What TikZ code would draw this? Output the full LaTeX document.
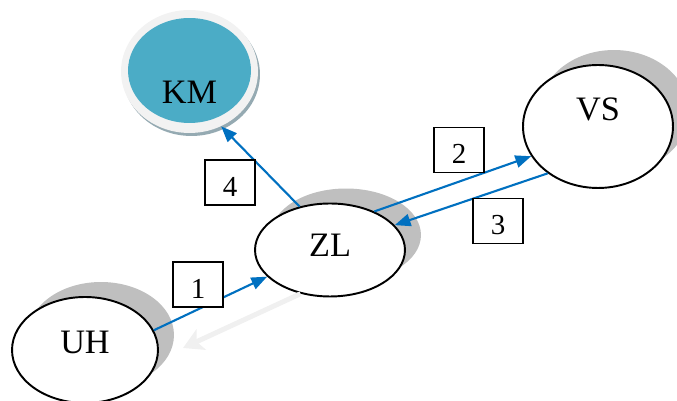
\documentclass[tikz,border=0pt]{standalone}
\usepackage{fontspec}
\setmainfont{Liberation Serif}
\usetikzlibrary{shapes.geometric,shadows,arrows.meta}
\definecolor{linkblue}{HTML}{0070C0}
\definecolor{shadowgray}{HTML}{BFBFBF}
\definecolor{kmteal}{HTML}{4BACC6}
\definecolor{kmrim}{HTML}{F2F2F2}
\definecolor{kmshade}{HTML}{95AAB2}
\definecolor{ghostgray}{HTML}{F0F0F0}
\tikzset{
  actor/.style={ellipse, draw, line width=1.1pt, fill=white, inner sep=0pt,
    general shadow={fill=shadowgray, shadow xshift=0.32cm, shadow yshift=0.3cm}},
  actorlabel/.style={font=\fontsize{19.5}{23}\selectfont},
  stepno/.style={rectangle, draw, fill=white, line width=0.9pt, minimum width=1cm,
    minimum height=0.9cm, inner sep=0pt, text height=15.5pt, text depth=0pt,
    font=\fontsize{16.5}{19}\selectfont},
  link/.style={linkblue, line width=1.2pt, -{Triangle[length=9pt,width=7pt]}},
}
\begin{document}
\begin{tikzpicture}[x=0.02cm, y=-0.02cm]
    \useasboundingbox (0,0) rectangle (677,401);
    % actors
    \node[actor, minimum width=2.92cm, minimum height=2.12cm,
          label={[name=uhtext, actorlabel, yshift=0.16cm]center:UH}] (UH) at (85,350) {};
    \node[actor, minimum width=3cm, minimum height=1.86cm,
          label={[name=zltext, actorlabel, yshift=0.1cm]center:ZL}] (ZL) at (330,250) {};
    \node[actor, minimum width=3cm, minimum height=2.46cm,
          label={[name=vstext, actorlabel, yshift=0.34cm]center:VS}] (VS) at (598,126.5) {};
    \node[ellipse, draw=none, fill=kmrim, inner sep=0pt,
          minimum width=2.74cm, minimum height=2.46cm,
          general shadow={fill=kmshade, shadow xshift=0.04cm, shadow yshift=-0.06cm},
          path picture={\fill[kmteal] ([yshift=0.02cm]path picture bounding box.center)
              ellipse [x radius=1.23cm, y radius=1.05cm];},
          label={[name=kmtext, actorlabel, yshift=-0.42cm]center:KM}] (KM) at (189.5,71.5) {};
    % faded arrow
    \coordinate (ghost) at (183,348);
    \draw[ghostgray, line width=0.1cm, -{Stealth[length=0.4cm, width=0.45cm, inset=0.1cm]}] (ZL.236) -- (ghost);
    % messages
    \draw[link] (UH.16) -- (ZL.203);
    \draw[link] (ZL.41) -- (VS.204);
    \draw[link] (VS.223) -- (ZL.21);
    \draw[link] (ZL.125) -- (KM.-60);
    \node[stepno] (s1) at (198,284.5) {1};
    \node[stepno] (s2) at (459,150) {2};
    \node[stepno] (s3) at (498,221) {3};
    \node[stepno] (s4) at (230,182.5) {4};
\end{tikzpicture}
\end{document}
